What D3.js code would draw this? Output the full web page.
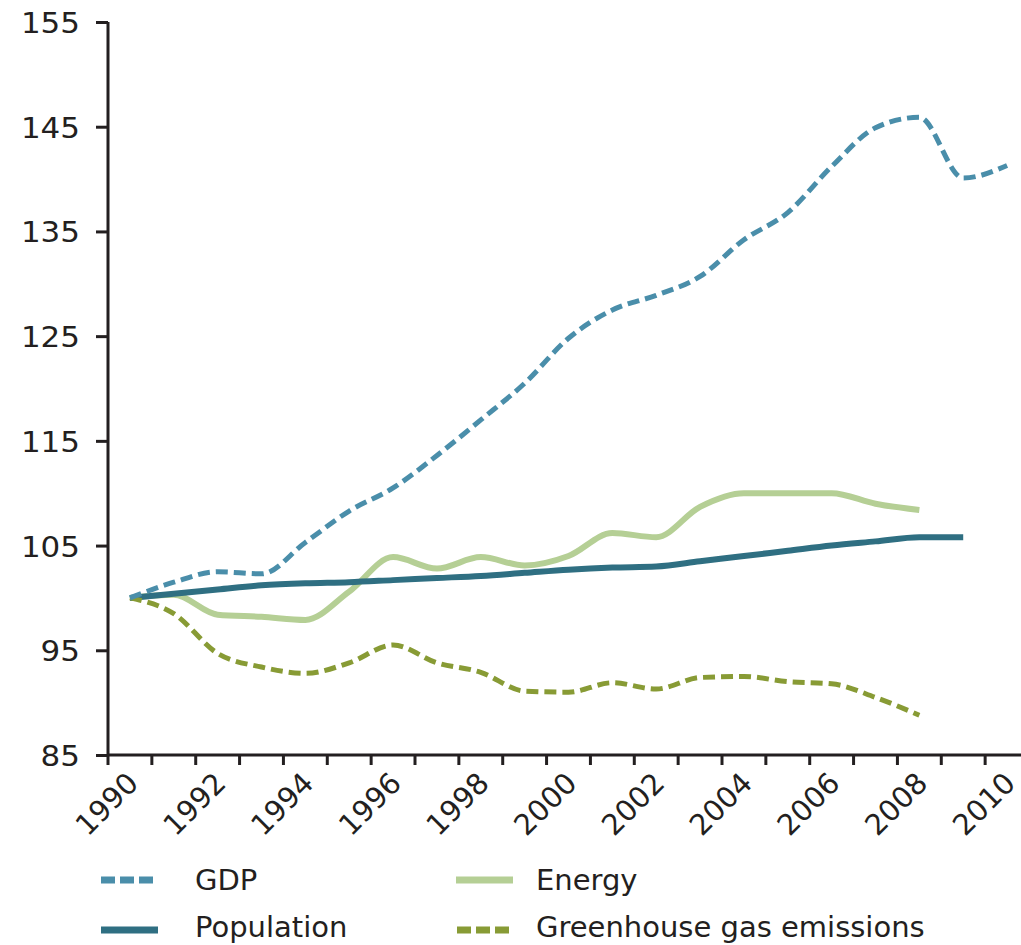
<!DOCTYPE html>
<html>
<head>
<meta charset="utf-8">
<script src="https://cdn.jsdelivr.net/npm/d3@7"></script>
<style>
html,body{margin:0;padding:0;background:#fff;}
svg{display:block;}
text{font-family:"DejaVu Sans",Verdana,sans-serif;fill:#231f20;}
</style>
</head>
<body>
<svg id="chart" width="1021" height="945"></svg>
<script>
const years = d3.range(1990, 2011);
const yTicks = [85, 95, 105, 115, 125, 135, 145, 155];
const xTickLabels = [1990, 1992, 1994, 1996, 1998, 2000, 2002, 2004, 2006, 2008, 2010];

const gdp = [100, 101.5, 102.5, 102.3, 105.3, 108.3, 110.5, 113.6, 117, 120.5, 124.8, 127.5, 128.9, 130.7, 134.2, 136.8, 141.2, 144.9, 145.9, 140.1, 141.3];
const population = [100, 100.4, 100.8, 101.2, 101.4, 101.5, 101.7, 101.9, 102.1, 102.4, 102.7, 102.9, 103.0, 103.5, 104.0, 104.5, 105.0, 105.4, 105.8, 105.8];
const energy = [100, 100.3, 98.4, 98.2, 97.9, 100.6, 103.9, 102.8, 103.9, 103.1, 104.0, 106.2, 105.8, 108.7, 110, 110, 110, 109, 108.4];
const ghg = [100, 98.5, 94.7, 93.4, 92.8, 93.8, 95.5, 93.8, 92.9, 91.1, 91.0, 91.9, 91.3, 92.4, 92.5, 92.0, 91.8, 90.5, 88.8];

const seriesNames = ["GDP", "Population", "Energy", "Greenhouse gas emissions"];
const seriesColors = ["#4a8eaa", "#2f6f82", "#b5cf95", "#889b35"];
const seriesDash = ["12,6", null, null, "12,6"];
const seriesWidth = [5, 6, 6, 5];
const seriesData = [gdp, population, energy, ghg];

const svg = d3.select("#chart");
const mLeft = 108, mRight = 1029, mTop = 22, mBottom = 755;

const x = d3.scaleBand().domain(years).range([mLeft, mRight]);
const y = d3.scaleLinear().domain([85, 155]).range([mBottom, mTop]);

const axisColor = "#231f20";
const yAxis = svg.append("g").attr("transform", `translate(${mLeft},0)`)
  .call(d3.axisLeft(y).tickValues(yTicks).tickSize(12).tickPadding(16).tickFormat(d3.format("d")));
yAxis.select(".domain").attr("d", `M0,${mTop}V${mBottom}`);

const xAxis = svg.append("g").attr("transform", `translate(0,${mBottom})`);
xAxis.append("line").attr("x1", mLeft).attr("x2", 1021).attr("y1", 0).attr("y2", 0);
const boundaries = years.map(yr => x(yr)).concat([x(2010) + x.bandwidth()]);
xAxis.selectAll("line.tick").data(boundaries).join("line").attr("class", "tick")
  .attr("x1", d => d).attr("x2", d => d).attr("y1", 0).attr("y2", 10);
xAxis.selectAll("line").attr("stroke", axisColor).attr("stroke-width", 3);

xAxis.selectAll("text").data(xTickLabels).join("text")
  .attr("transform", d => `translate(${x(d) + x.bandwidth() / 2 + 10},${30}) rotate(-45)`)
  .attr("text-anchor", "end")
  .attr("font-size", 29)
  .text(d => d);

yAxis.selectAll(".domain, .tick line").attr("stroke", axisColor).attr("stroke-width", 3);
yAxis.selectAll(".tick text").attr("font-size", 29).attr("fill", axisColor).attr("dy", "0.36em")
  .attr("textLength", d => String(d).length * 19.7).attr("lengthAdjust", "spacingAndGlyphs");
yAxis.attr("font-family", null);

const line = d3.line()
  .x((d, i) => x(years[i]) + x.bandwidth() / 2)
  .y(d => y(d))
  .curve(d3.curveMonotoneX);

[2, 1, 3, 0].forEach(k => {
  svg.append("path")
    .datum(seriesData[k])
    .attr("fill", "none")
    .attr("stroke", seriesColors[k])
    .attr("stroke-width", seriesWidth[k])
    .attr("stroke-dasharray", seriesDash[k])
    .attr("d", line);
});

const legendPos = [[101, 880, 195], [101, 930, 195], [456, 880, 536], [457, 930, 536]];
seriesNames.forEach((name, k) => {
  const [lx, ly, tx] = legendPos[k];
  svg.append("line")
    .attr("x1", lx).attr("x2", lx + 57).attr("y1", ly).attr("y2", ly)
    .attr("stroke", seriesColors[k]).attr("stroke-width", 7)
    .attr("stroke-dasharray", seriesDash[k] ? "14,5" : null);
  svg.append("text")
    .attr("x", tx).attr("y", ly + (k % 2 ? 7 : 10))
    .attr("font-size", 29)
    .text(name);
});
</script>
</body>
</html>
